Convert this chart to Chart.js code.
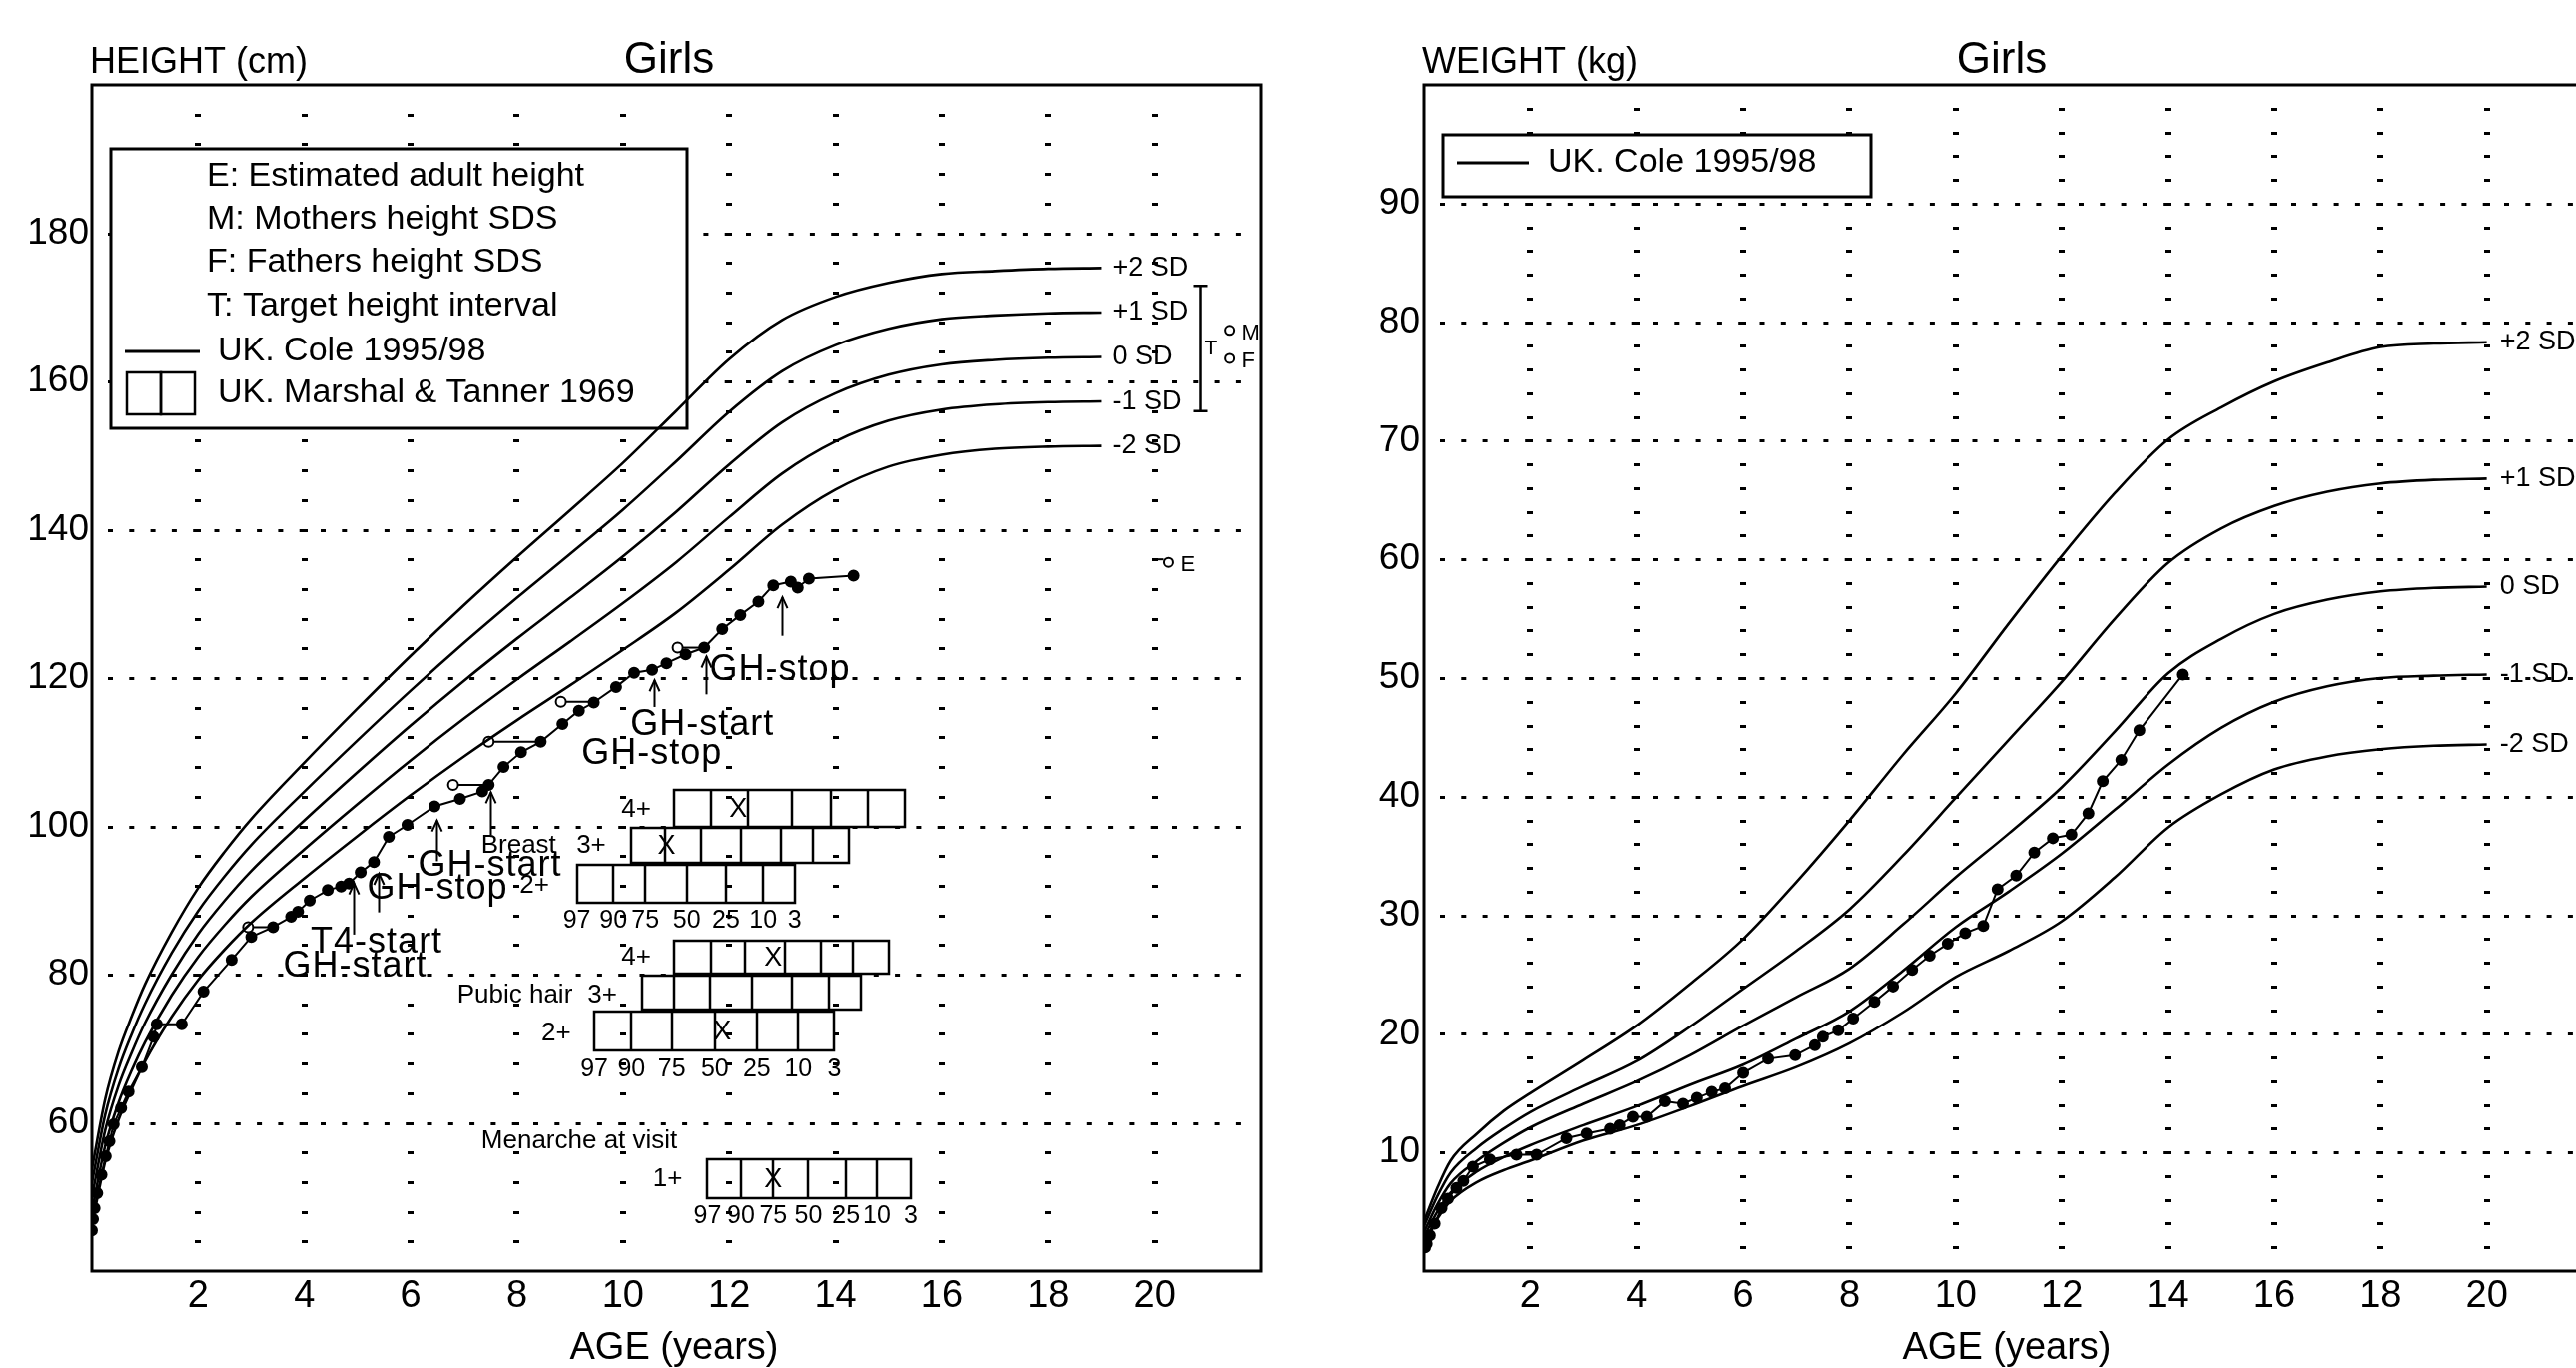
<!DOCTYPE html>
<html><head><meta charset="utf-8">
<script src="https://cdn.jsdelivr.net/npm/chart.js@4"></script>
<style>
html,body{margin:0;padding:0;background:#fff;overflow:hidden;width:2579px;height:1370px;}
canvas{position:absolute;top:0;}
#c1{left:0;}
#c2{left:1334px;}
</style></head><body>
<canvas id="c1" width="1300" height="1370"></canvas>
<canvas id="c2" width="1300" height="1370"></canvas>
<script>
const FONT = "'Liberation Sans', Arial, sans-serif";

// ---------- shared ----------
const ageTicks = [2,4,6,8,10,12,14,16,18,20];
const sdNames = ['+2 SD','+1 SD','0 SD','-1 SD','-2 SD'];

// ---------- HEIGHT chart (UK Cole 1995/98) ----------
const hAges = [0,0.25,0.5,0.75,1,1.5,2,2.5,3,4,5,6,7,8,9,10,11,12,13,14,15,16,17,18,19];
const hSDp2 = [53.8,63.2,69.6,74.4,78.7,85.7,91.7,96.6,101.0,108.6,115.9,123.0,129.8,136.3,142.6,149.0,156.0,163.0,168.3,171.4,173.3,174.5,174.9,175.2,175.3];
const hSDp1 = [51.9,61.1,67.3,72.0,76.1,82.9,88.6,93.3,97.5,104.7,111.6,118.3,124.7,130.8,136.7,142.7,149.2,155.9,161.4,164.9,167.1,168.4,168.9,169.2,169.3];
const hSD0  = [50.0,59.0,65.0,69.5,73.5,80.0,85.5,90.0,94.0,100.8,107.3,113.6,119.6,125.3,130.8,136.4,142.4,148.8,154.5,158.4,160.9,162.3,162.9,163.2,163.3];
const hSDm1 = [48.1,56.9,62.7,67.1,70.9,77.2,82.4,86.7,90.5,96.9,103.0,108.9,114.5,119.8,124.9,130.1,135.6,141.7,147.6,151.9,154.7,156.2,156.9,157.2,157.3];
const hSDm2 = [46.2,54.8,60.4,64.6,68.3,74.3,79.3,83.4,87.0,93.0,98.7,104.2,109.4,114.3,119.0,123.8,128.8,134.6,140.7,145.4,148.5,150.1,150.9,151.2,151.3];

const patientHAge = [0.0,0.02,0.05,0.1,0.18,0.26,0.33,0.41,0.55,0.69,0.94,1.16,1.22,1.69,2.1,2.63,3.0,3.41,3.75,3.88,4.1,4.44,4.69,4.84,5.06,5.31,5.59,5.94,6.45,6.93,7.35,7.47,7.75,8.08,8.45,8.86,9.17,9.45,9.87,10.21,10.55,10.82,11.18,11.53,11.87,12.21,12.55,12.83,13.16,13.29,13.5,14.34];
const patientH    = [45.5,47.0,48.5,50.5,53.0,55.5,57.5,59.8,62.0,64.2,67.5,71.6,73.3,73.3,77.7,82.0,85.1,86.4,87.8,88.5,90.0,91.4,91.9,92.3,93.8,95.2,98.6,100.2,102.7,103.7,104.7,105.6,108.0,110.0,111.4,113.8,115.6,116.7,118.8,120.7,121.1,122.0,123.2,124.1,126.6,128.5,130.3,132.5,133.0,132.2,133.4,133.8];

const boneAge    = [2.94, 6.80, 7.47, 8.83, 11.03];
const boneChrono = [3.41, 7.47, 8.42, 9.43, 11.53];
const boneH      = [86.4, 105.6, 111.4, 116.8, 124.1];

const estAdult = {age: 20.26, h: 135.6};
const mother   = {age: 21.41, h: 166.9};
const father   = {age: 21.41, h: 163.1};
const targetRange = {age: 20.86, low: 156.0, high: 172.9};

const eventAges   = [4.93, 5.40, 6.48, 7.51, 10.58, 11.56, 13.00];
const eventLabels = ['GH-start','T4-start','GH-stop','GH-start','GH-stop','GH-start','GH-stop'];

const centileLabels = ['97','90','75','50','25','10','3'];
const breast4   = [10.96,11.66,12.36,13.18,13.92,14.61,15.30];
const breast3   = [10.15,10.79,11.47,12.23,12.97,13.57,14.26];
const breast2   = [9.13,9.82,10.42,11.20,11.94,12.64,13.23];
const pubic4    = [10.96,11.66,12.30,13.05,13.73,14.32,15.01];
const pubic3    = [10.37,10.96,11.64,12.42,13.18,13.87,14.48];
const pubic2    = [9.46,10.16,10.92,11.73,12.52,13.30,13.98];
const menarche1 = [11.59,12.22,12.83,13.49,14.20,14.78,15.42];
const tannerMarks = {breast4: 12.17, breast3: 10.82, pubic4: 12.83, pubic2: 11.87, menarche1: 12.83};

// ---------- WEIGHT chart ----------
const wAges = [0,0.25,0.5,1,1.5,2,3,4,5,6,7,8,9,10,11,12,13,14,15,16,17,18,19,20];
const wSDp2 = [4.2,7.0,9.3,11.6,13.5,15.0,17.8,20.7,24.2,28.0,32.8,38.0,43.5,48.7,54.6,60.3,65.6,70.1,72.8,75.0,76.6,77.9,78.2,78.3];
const wSDp1 = [3.8,6.3,8.3,10.4,12.0,13.4,15.6,17.7,20.6,23.8,27.0,30.5,35.0,39.9,44.8,49.7,55.0,59.7,62.6,64.5,65.7,66.4,66.7,66.8];
const wSD0  = [3.3,5.6,7.4,9.3,10.8,12.1,14.1,16.0,18.2,20.7,23.1,25.5,29.2,33.2,36.9,40.8,45.5,50.4,53.3,55.4,56.6,57.3,57.6,57.7];
const wSDm1 = [2.9,5.0,6.6,8.4,9.6,10.6,12.3,13.9,15.7,17.4,19.6,21.9,25.3,29.0,32.0,35.2,38.9,42.7,45.8,48.0,49.3,50.0,50.2,50.3];
const wSDm2 = [2.5,4.4,5.9,7.5,8.5,9.3,11.0,12.3,13.9,15.6,17.2,19.2,21.8,24.8,27.0,29.5,33.2,37.4,40.2,42.3,43.4,44.0,44.3,44.4];

const patientWAge = [0.02,0.05,0.11,0.2,0.33,0.45,0.61,0.74,0.92,1.24,1.74,2.12,2.68,3.06,3.5,3.68,3.93,4.19,4.53,4.87,5.13,5.41,5.66,6.0,6.47,6.98,7.35,7.5,7.79,8.07,8.47,8.82,9.18,9.51,9.85,10.18,10.52,10.79,11.14,11.48,11.83,12.18,12.5,12.77,13.12,13.46,14.28];
const patientW    = [2.0,2.3,3.0,4.0,5.3,6.1,7.0,7.6,8.8,9.4,9.8,9.8,11.2,11.6,12.0,12.3,13.0,13.0,14.3,14.1,14.6,15.1,15.4,16.7,17.9,18.2,19.05,19.75,20.3,21.3,22.7,24.0,25.4,26.6,27.6,28.5,29.1,32.2,33.35,35.3,36.5,36.8,38.6,41.3,43.1,45.6,50.3];

// ---------- helpers ----------
const pts = (xs, ys) => xs.map((x, i) => ({x, y: ys[i]}));
const curve = (xs, ys) => ({data: pts(xs, ys), showLine: true, borderColor: '#000', borderWidth: 2.6,
  pointRadius: 0, cubicInterpolationMode: 'monotone', fill: false});
const patient = (xs, ys) => ({data: pts(xs, ys), showLine: true, borderColor: '#000', borderWidth: 2,
  pointRadius: 5, pointBackgroundColor: '#000', pointBorderColor: '#000', tension: 0});
const openPt = (p) => ({data: [{x: p.age, y: p.h}], showLine: false, pointRadius: 4.5,
  pointBackgroundColor: '#fff', pointBorderColor: '#000', pointBorderWidth: 2});

function txt(ctx, s, x, y, size, align, base, spacing) {
  ctx.font = size + 'px ' + FONT;
  ctx.textAlign = align || 'left';
  ctx.textBaseline = base || 'middle';
  ctx.fillStyle = '#000';
  ctx.letterSpacing = (spacing || 0) + 'px';
  ctx.fillText(s, x, y);
  ctx.letterSpacing = '0px';
}

function drawGrid(chart, majors, minorStart, minorStep) {
  const {ctx, chartArea: a, scales: {x, y}} = chart;
  ctx.save();
  ctx.fillStyle = '#000';
  for (let v = minorStart; v < y.max; v += minorStep) {
    const py = Math.round(y.getPixelForValue(v));
    for (const t of ageTicks) {
      const px = Math.round(x.getPixelForValue(t));
      ctx.fillRect(px - 3, py - 1, 6, 3);
    }
  }
  ctx.strokeStyle = '#000'; ctx.lineWidth = 3; ctx.setLineDash([5, 16.3]);
  for (const v of majors) {
    const py = Math.round(y.getPixelForValue(v)) + 0.5;
    ctx.beginPath(); ctx.moveTo(a.left + 16, py); ctx.lineTo(a.right - 4, py); ctx.stroke();
  }
  ctx.restore();
}

function drawFrameAndTitles(chart, yTitle) {
  const {ctx, chartArea: a} = chart;
  ctx.save();
  ctx.strokeStyle = '#000'; ctx.lineWidth = 3;
  ctx.strokeRect(a.left, a.top, a.right - a.left, a.bottom - a.top);
  txt(ctx, yTitle, a.left - 2, 73, 36, 'left', 'alphabetic');
  txt(ctx, 'Girls', 670, 73, 44, 'center', 'alphabetic');
  txt(ctx, 'AGE (years)', (a.left + a.right) / 2 - 2, 1361, 38, 'center', 'alphabetic');
  ctx.restore();
}

function sdLabels(chart, ages, curves, dx) {
  const {ctx, scales: {x, y}} = chart;
  const px = x.getPixelForValue(ages[ages.length - 1]) + dx;
  curves.forEach((c, i) => txt(ctx, sdNames[i], px, y.getPixelForValue(c[c.length - 1]), 27, 'left', 'middle'));
}

function block(chart, bounds, top, bottom, mark) {
  const {ctx, scales: {x, y}} = chart;
  const y1 = Math.round(y.getPixelForValue(top)), y2 = Math.round(y.getPixelForValue(bottom));
  ctx.strokeStyle = '#000'; ctx.lineWidth = 2.5;
  const xs = bounds.map(b => Math.round(x.getPixelForValue(b)));
  ctx.strokeRect(xs[0], y1, xs[6] - xs[0], y2 - y1);
  for (let i = 1; i < 6; i++) { ctx.beginPath(); ctx.moveTo(xs[i], y1); ctx.lineTo(xs[i], y2); ctx.stroke(); }
  if (mark != null) txt(ctx, 'X', x.getPixelForValue(mark), (y1 + y2) / 2 + 1, 27, 'center', 'middle');
}
function centileRow(chart, bounds, h) {
  const {ctx, scales: {x, y}} = chart;
  bounds.forEach((b, i) => txt(ctx, centileLabels[i], x.getPixelForValue(b), y.getPixelForValue(h), 25, 'center', 'middle'));
}

function arrow(ctx, px, y1, y2) {
  ctx.beginPath(); ctx.moveTo(px, y1); ctx.lineTo(px, y2); ctx.stroke();
  ctx.beginPath(); ctx.moveTo(px - 5, y2 + 11); ctx.lineTo(px, y2); ctx.lineTo(px + 5, y2 + 11); ctx.stroke();
}

// ---------- left chart plugin ----------
const heightPlugin = {
  id: 'heightDeco',
  beforeDatasetsDraw(chart) {
    const {ctx, chartArea: a, scales: {x, y}} = chart;
    drawGrid(chart, [60, 80, 100, 120, 140, 160, 180], 44, 4);
    ctx.save();
    // legend box
    const L = a.left + 19, Tp = a.top + 64, W = 577, H = 280;
    ctx.fillStyle = '#fff'; ctx.fillRect(L, Tp, W, H);
    ctx.strokeStyle = '#000'; ctx.lineWidth = 3; ctx.strokeRect(L, Tp, W, H);
    txt(ctx, 'E: Estimated adult height', L + 96, Tp + 28, 34);
    txt(ctx, 'M: Mothers height SDS', L + 96, Tp + 71, 34);
    txt(ctx, 'F: Fathers height SDS', L + 96, Tp + 114, 34);
    txt(ctx, 'T: Target height interval', L + 96, Tp + 158, 34);
    ctx.lineWidth = 3; ctx.beginPath(); ctx.moveTo(L + 14, Tp + 203); ctx.lineTo(L + 89, Tp + 203); ctx.stroke();
    txt(ctx, 'UK. Cole 1995/98', L + 107, Tp + 203, 34);
    ctx.lineWidth = 2.5; ctx.strokeRect(L + 16, Tp + 224, 34, 42); ctx.strokeRect(L + 50, Tp + 224, 34, 42);
    txt(ctx, 'UK. Marshal & Tanner 1969', L + 107, Tp + 245, 34);

    // Tanner / menarche blocks
    block(chart, breast4, 104.9, 100.0, tannerMarks.breast4);
    block(chart, breast3, 99.75, 95.1, tannerMarks.breast3);
    block(chart, breast2, 94.8, 89.7, null);
    centileRow(chart, breast2, 87.3);
    block(chart, pubic4, 84.6, 80.15, tannerMarks.pubic4);
    block(chart, pubic3, 79.9, 75.35, null);
    block(chart, pubic2, 75.0, 69.7, tannerMarks.pubic2);
    centileRow(chart, pubic2, 67.2);
    block(chart, menarche1, 55.1, 49.8, tannerMarks.menarche1);
    centileRow(chart, menarche1, 47.4);
    const X = v => x.getPixelForValue(v), Y = v => y.getPixelForValue(v);
    txt(ctx, '4+', X(10.53), Y(102.3), 26, 'right');
    txt(ctx, 'Breast', X(8.74), Y(97.4), 26, 'right');
    txt(ctx, '3+', X(9.68), Y(97.4), 26, 'right');
    txt(ctx, '2+', X(8.61), Y(92.0), 26, 'right');
    txt(ctx, '4+', X(10.53), Y(82.3), 26, 'right');
    txt(ctx, 'Pubic hair', X(9.05), Y(77.2), 26, 'right');
    txt(ctx, '3+', X(9.89), Y(77.2), 26, 'right');
    txt(ctx, '2+', X(9.02), Y(72.1), 26, 'right');
    txt(ctx, 'Menarche at visit', X(7.33), Y(57.5), 26, 'left');
    txt(ctx, '1+', X(11.12), Y(52.4), 26, 'right');
    ctx.restore();
  },
  afterDatasetsDraw(chart) {
    const {ctx, scales: {x, y}} = chart;
    const X = v => x.getPixelForValue(v), Y = v => y.getPixelForValue(v);
    ctx.save();
    ctx.strokeStyle = '#000'; ctx.lineWidth = 2;
    // event arrows
    const arrowSpan = [[85.4, 92.3], [88.4, 93.6], [95.3, 100.8], [98.8, 104.6], [116.1, 119.7], [117.8, 122.9], [125.7, 130.9]];
    eventAges.forEach((a, i) => arrow(ctx, Math.round(X(a)) + 0.5, Y(arrowSpan[i][0]), Y(arrowSpan[i][1])));
    // event texts
    const textPos = [[3.60, 81.0, 'GH-start'], [4.12, 84.3, 'T4-start'], [5.18, 91.6, 'GH-stop'], [6.14, 94.7, 'GH-start'],
                     [9.22, 109.8, 'GH-stop'], [10.14, 113.6, 'GH-start'], [11.63, 121.0, 'GH-stop']];
    textPos.forEach(t => txt(ctx, t[2], X(t[0]), Y(t[1]), 36, 'left', 'middle', 1));
    // SD labels
    sdLabels(chart, hAges, [hSDp2, hSDp1, hSD0, hSDm1, hSDm2], 11);
    // target range bar
    const tx = Math.round(X(targetRange.age)) + 0.5;
    ctx.lineWidth = 2.5;
    ctx.beginPath(); ctx.moveTo(tx, Y(targetRange.high)); ctx.lineTo(tx, Y(targetRange.low)); ctx.stroke();
    ctx.beginPath(); ctx.moveTo(tx - 7, Y(targetRange.high)); ctx.lineTo(tx + 7, Y(targetRange.high));
    ctx.moveTo(tx - 7, Y(targetRange.low)); ctx.lineTo(tx + 7, Y(targetRange.low)); ctx.stroke();
    txt(ctx, 'T', tx + 4, Y((targetRange.high + targetRange.low) / 2), 21, 'left');
    txt(ctx, 'M', X(mother.age) + 12, Y(mother.h) + 3, 22, 'left');
    txt(ctx, 'F', X(father.age) + 12, Y(father.h) + 3, 22, 'left');
    txt(ctx, 'E', X(estAdult.age) + 12, Y(estAdult.h) + 3, 22, 'left');
    ctx.lineWidth = 2;
    ctx.beginPath(); ctx.moveTo(X(estAdult.age) - 14, Y(estAdult.h) - 3); ctx.lineTo(X(estAdult.age) - 5, Y(estAdult.h) - 3); ctx.stroke();
    ctx.restore();
  },
  afterDraw(chart) { drawFrameAndTitles(chart, 'HEIGHT (cm)'); }
};

// ---------- right chart plugin ----------
const weightPlugin = {
  id: 'weightDeco',
  beforeDatasetsDraw(chart) {
    const {ctx, chartArea: a} = chart;
    drawGrid(chart, [10, 20, 30, 40, 50, 60, 70, 80, 90], 2, 2);
    ctx.save();
    const L = a.left + 19, Tp = a.top + 50, W = 428, H = 62;
    ctx.fillStyle = '#fff'; ctx.fillRect(L, Tp, W, H);
    ctx.strokeStyle = '#000'; ctx.lineWidth = 3; ctx.strokeRect(L, Tp, W, H);
    ctx.beginPath(); ctx.moveTo(L + 14, Tp + 28); ctx.lineTo(L + 86, Tp + 28); ctx.stroke();
    txt(ctx, 'UK. Cole 1995/98', L + 105, Tp + 28, 34);
    ctx.restore();
  },
  afterDatasetsDraw(chart) {
    chart.ctx.save();
    sdLabels(chart, wAges, [wSDp2, wSDp1, wSD0, wSDm1, wSDm2], 13);
    chart.ctx.restore();
  },
  afterDraw(chart) { drawFrameAndTitles(chart, 'WEIGHT (kg)'); }
};

function makeConfig(datasets, yMin, yMax, yStep, yPad, plugin) {
  return {
    type: 'scatter',
    data: {datasets},
    options: {
      responsive: false, animation: false, devicePixelRatio: 1,
      layout: {padding: {top: 85, right: 38, left: 0, bottom: 0}},
      plugins: {legend: {display: false}, tooltip: {enabled: false}, title: {display: false}},
      scales: {
        x: {type: 'linear', min: 0, max: 22,
          afterFit(s) { s.height = 97; },
          grid: {display: false, drawTicks: false}, border: {display: false},
          ticks: {stepSize: 2, padding: 3, color: '#000', maxRotation: 0, autoSkip: false,
            font: {family: FONT, size: 38},
            callback: v => (v > 0 && v < 22) ? String(v) : ''}},
        y: {type: 'linear', min: yMin, max: yMax,
          afterFit(s) { s.width = 92; },
          grid: {display: false, drawTicks: false}, border: {display: false},
          ticks: {stepSize: yStep, padding: yPad, color: '#000', font: {family: FONT, size: 37},
            callback: v => (v > yMin && v < yMax) ? String(v) : ''}}
      }
    },
    plugins: [plugin]
  };
}

const hDatasets = [
  curve(hAges, hSDp2), curve(hAges, hSDp1), curve(hAges, hSD0), curve(hAges, hSDm1), curve(hAges, hSDm2),
  ...boneAge.map((b, i) => ({data: [{x: b, y: boneH[i]}, {x: boneChrono[i], y: boneH[i]}], showLine: true,
    borderColor: '#000', borderWidth: 2, pointRadius: [5, 0], pointBackgroundColor: '#fff',
    pointBorderColor: '#000', pointBorderWidth: 2})),
  patient(patientHAge, patientH),
  openPt(estAdult), openPt(mother), openPt(father)
];
const wDatasets = [
  curve(wAges, wSDp2), curve(wAges, wSDp1), curve(wAges, wSD0), curve(wAges, wSDm1), curve(wAges, wSDm2),
  patient(patientWAge, patientW)
];

new Chart(document.getElementById('c1'), makeConfig(hDatasets, 40, 200, 20, 3, heightPlugin));
new Chart(document.getElementById('c2'), makeConfig(wDatasets, 0, 100, 10, 4, weightPlugin));
</script>
</body></html>
